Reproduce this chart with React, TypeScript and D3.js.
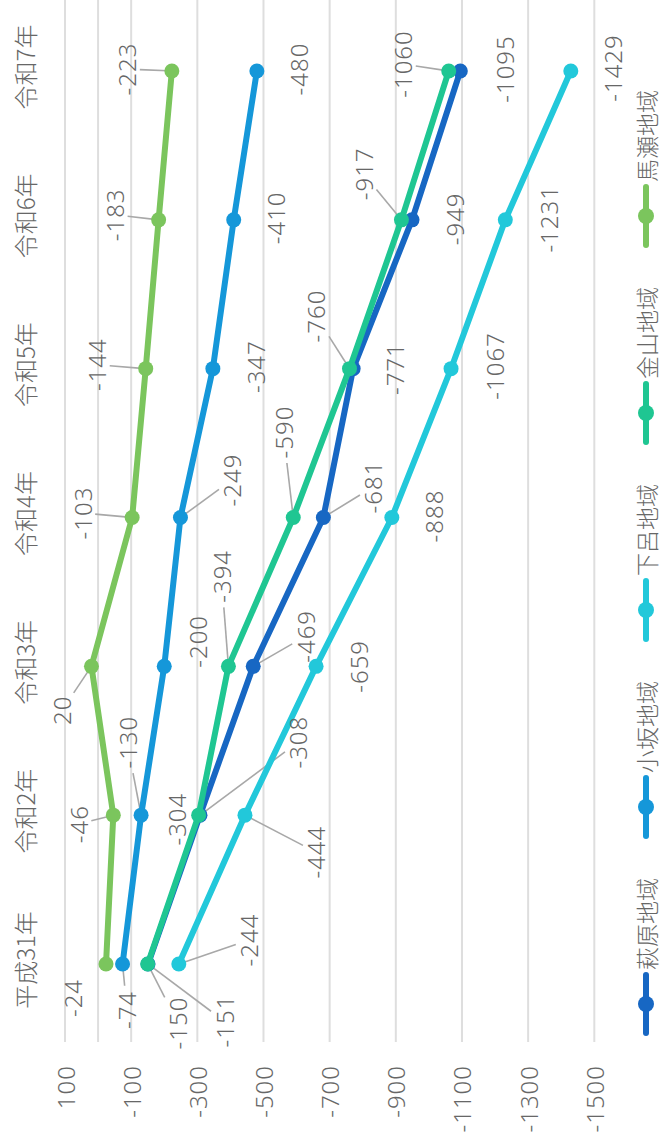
import React from 'react';
import * as d3 from 'd3';

// Population change by district, per year
const years = ['平成31年', '令和2年', '令和3年', '令和4年', '令和5年', '令和6年', '令和7年'];
const seriesNames = ['萩原地域', '小坂地域', '下呂地域', '金山地域', '馬瀬地域'];
const hagiwara = [-151, -308, -469, -681, -771, -949, -1095];
const osaka = [-74, -130, -200, -249, -347, -410, -480];
const gero = [-244, -444, -659, -888, -1067, -1231, -1429];
const kanayama = [-150, -304, -394, -590, -760, -917, -1060];
const mase = [-24, -46, 20, -103, -144, -183, -223];
const valueTicks = [100, -100, -300, -500, -700, -900, -1100, -1300, -1500];
const seriesValues = [hagiwara, osaka, gero, kanayama, mase];
const colors = ['#1767c3', '#1597d9', '#22c8da', '#1fc692', '#7bc55d'];

// Label placement in the chart frame (along category axis, along value axis) + leader flag
const labelLayout: [number, number, boolean][][] = [
  [[-57, 76, true], [73, 98, true], [30, 52, true], [30.5, 49.6, true], [0, 41, false], [1, 42, false], [2, 44, false]],
  [[-46, 4.4, true], [73, -14, true], [25, 33, false], [37.5, 51.5, true], [2, 43, false], [2, 42, false], [2, 42, false]],
  [[24, 70, true], [-37, 71, true], [0, 42, false], [1.5, 42, false], [2.7, 43, false], [1, 43, false], [3, 42, false]],
  [[-59, 30, true], [-4, -22.6, false], [90, -7, true], [85.5, -10, true], [52.7, -33.5, true], [46, -38, true], [7, -46, true]],
  [[-34, -34, false], [-9, -35, true], [-44, -29.5, true], [4.5, -50, true], [4, -49, true], [5, -44, true], [2, -45, true]],
];

// Chart is laid out in a landscape frame, then turned to read upward on the page
const FW = 1146;

const NUM_FONT = '"Noto Sans", "Noto Sans CJK JP", sans-serif';
const CJK_FONT = '"Noto Sans CJK JP", "Noto Sans", sans-serif';
const TEXT = '#676767';

export default function App() {
  const x = d3.scalePoint<string>().domain(years).range([182, 1075]);
  const y = d3.scaleLinear().domain([100, -1500]).range([65, 594.3]);
  const gridValues = [...valueTicks, 0];

  const line = d3
    .line<number>()
    .x((_, i) => x(years[i]) as number)
    .y((v) => y(v));

  const leader = (px: number, py: number, cx: number, cy: number, text: string) => {
    const len = text.length * 13.5;
    const hx = len / 2 + 4;
    const hy = 13;
    const vx = px - cx;
    const vy = py - cy;
    const s = Math.min(vx === 0 ? Infinity : hx / Math.abs(vx), vy === 0 ? Infinity : hy / Math.abs(vy));
    const ex = cx + vx * s;
    const ey = cy + vy * s;
    const d = Math.hypot(vx, vy) || 1;
    const sx = px - (vx / d) * 4;
    const sy = py - (vy / d) * 4;
    return `M${sx},${sy}L${ex},${ey}`;
  };

  return (
    <svg
      width={662}
      height={1146}
      style={{ position: 'absolute', left: 0, top: 0, background: '#fff' }}
    >
      <rect width={662} height={1146} fill="#fff" />
      <g transform={`translate(0,${FW}) rotate(-90)`}>
        {/* gridlines */}
        {gridValues.map((v) => (
          <line key={`g${v}`} x1={104} x2={FW} y1={y(v)} y2={y(v)} stroke="#dedede" strokeWidth={2} />
        ))}
        {/* value axis labels */}
        {valueTicks.map((v) => (
          <text
            key={`t${v}`}
            x={81}
            y={y(v)}
            textAnchor="end"
            dominantBaseline="central"
            fontFamily={NUM_FONT}
            fontWeight={300}
            fontSize={24}
            letterSpacing={1}
            fill={TEXT}
          >
            {v}
          </text>
        ))}
        {/* category labels */}
        {years.map((c) => (
          <text
            key={c}
            x={(x(c) as number) + 4}
            y={24}
            textAnchor="middle"
            dominantBaseline="central"
            fontFamily={CJK_FONT}
            fontWeight={300}
            fontSize={24}
            fill={TEXT}
          >
            {c}
          </text>
        ))}
        {/* leader lines */}
        {seriesValues.map((vals, si) =>
          vals.map((v, i) => {
            const [dx, dy, on] = labelLayout[si][i];
            if (!on) return null;
            const px = x(years[i]) as number;
            const py = y(v);
            return (
              <path
                key={`l${si}-${i}`}
                d={leader(px, py, px + dx, py + dy, String(v))}
                stroke="#a8a8a8"
                strokeWidth={1.6}
                fill="none"
              />
            );
          })
        )}
        {/* series lines and markers */}
        {seriesValues.map((vals, si) => (
          <g key={`s${si}`}>
            <path
              d={line(vals) as string}
              fill="none"
              stroke={colors[si]}
              strokeWidth={6}
              strokeLinejoin="round"
              strokeLinecap="round"
            />
            {vals.map((v, i) => (
              <circle key={i} cx={x(years[i]) as number} cy={y(v)} r={7.5} fill={colors[si]} />
            ))}
          </g>
        ))}
        {/* data labels */}
        {seriesValues.map((vals, si) =>
          vals.map((v, i) => {
            const [dx, dy] = labelLayout[si][i];
            const px = x(years[i]) as number;
            const py = y(v);
            return (
              <text
                key={`d${si}-${i}`}
                x={px + dx}
                y={py + dy}
                textAnchor="middle"
                dominantBaseline="central"
                fontFamily={NUM_FONT}
                fontWeight={300}
                fontSize={24}
                letterSpacing={1}
                fill={TEXT}
              >
                {v}
              </text>
            );
          })
        )}
        {/* legend */}
        {seriesNames.map((name, i) => {
          const x0 = 113 + i * 197;
          const ly = 646;
          return (
            <g key={name}>
              <line x1={x0} x2={x0 + 58} y1={ly} y2={ly} stroke={colors[i]} strokeWidth={6} strokeLinecap="round" />
              <circle cx={x0 + 29} cy={ly} r={8} fill={colors[i]} />
              <text
                x={x0 + 63}
                y={ly}
                dominantBaseline="central"
                fontFamily={CJK_FONT}
                fontWeight={300}
                fontSize={23}
                fill={TEXT}
              >
                {name}
              </text>
            </g>
          );
        })}
      </g>
    </svg>
  );
}
